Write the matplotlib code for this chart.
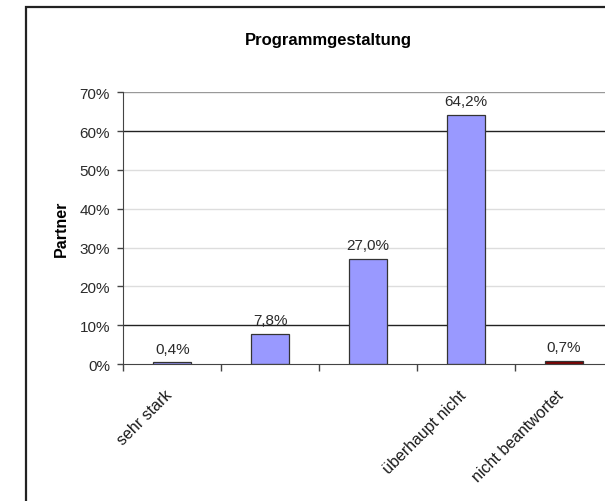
import matplotlib.pyplot as plt
from matplotlib.patches import Rectangle
from matplotlib.transforms import ScaledTranslation

categories = ["sehr stark", "", "", "überhaupt nicht", "nicht beantwortet"]
values = [0.4, 7.8, 27.0, 64.2, 0.7]
bar_colors = ["#9999FF", "#9999FF", "#9999FF", "#9999FF", "#800000"]
y_ticks = [0, 10, 20, 30, 40, 50, 60, 70]
grid_colors = {10: "#222222", 20: "#dddddd", 30: "#dddddd", 40: "#dddddd",
               50: "#dddddd", 60: "#222222", 70: "#999999"}

plt.rcParams['font.family'] = ['Liberation Sans', 'DejaVu Sans']

fig = plt.figure(figsize=(6.05, 5.02), dpi=100)
ax = fig.add_axes([0.2038, 0.2729, 0.8094, 0.5412])

# outer chart frame (cut off at right and bottom like the scan)
fig.patches.append(Rectangle((26 / 605, -0.2), 1.2, 1.2 - 8 / 502,
                             transform=fig.transFigure, fill=False,
                             edgecolor="#222222", linewidth=1.6))

for y in y_ticks[1:]:
    ax.axhline(y, color=grid_colors[y], linewidth=1.0, zorder=0)

x = range(len(values))
ax.bar(x, values, width=0.39, color=bar_colors, edgecolor="#333333",
       linewidth=0.9, zorder=2)

for xi, v in zip(x, values):
    ax.annotate(f"{v:.1f}%".replace(".", ","), (xi, v), xytext=(0, 5),
                textcoords="offset points", ha="center", va="bottom",
                fontsize=11, color="#2a2a2a")

ax.set_xlim(-0.5, len(values) - 0.5)
ax.set_ylim(0, 70)
ax.set_yticks(y_ticks)
ax.set_yticklabels([f"{t}%" for t in y_ticks], fontsize=11, color="#2a2a2a")
ax.tick_params(axis="y", length=4, width=1, color="#444444", pad=5.5)

ax.set_xticks([i - 0.5 for i in range(len(values) + 1)])
ax.set_xticklabels([])
ax.tick_params(axis="x", which="major", length=5, width=1, color="#444444")

# rotated category labels
lab_tr = ax.get_xaxis_transform() + ScaledTranslation(-8 / 100, -23 / 100,
                                                      fig.dpi_scale_trans)
for xi, c in zip(x, categories):
    ax.text(xi, 0, c, transform=lab_tr, rotation=45, rotation_mode="anchor",
            ha="right", va="top", fontsize=11.5, color="#1a1a1a")

for s in ["top", "right"]:
    ax.spines[s].set_visible(False)
ax.spines["left"].set_color("#444444")
ax.spines["bottom"].set_color("#444444")

ax.set_ylabel("Partner", fontsize=11.5, fontweight="bold", labelpad=8)
fig.text(328 / 605, 1 - 41 / 502, "Programmgestaltung", ha="center",
         va="center", fontsize=12, fontweight="bold")

fig.savefig("out.png", dpi=100)
